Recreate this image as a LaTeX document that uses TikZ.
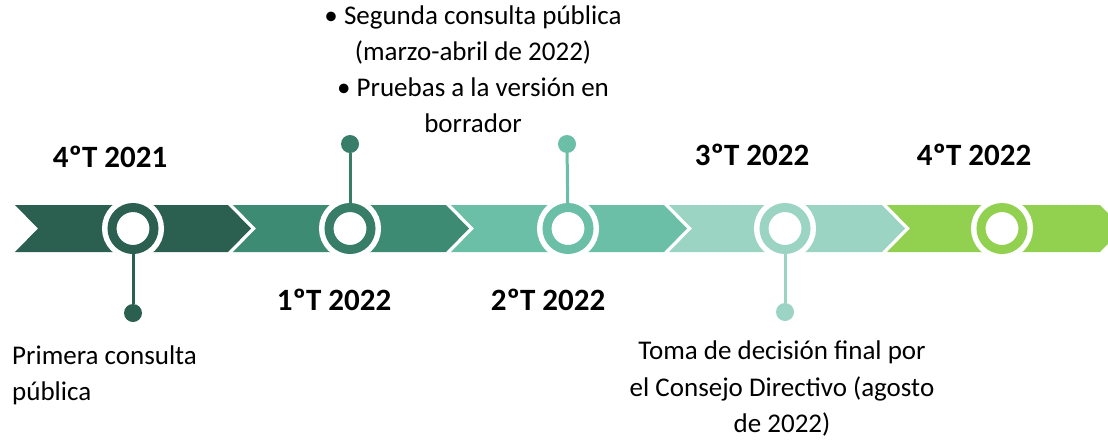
\documentclass[tikz,border=0pt]{standalone}
\usepackage{fontspec}
\setmainfont{Carlito}
\definecolor{cA}{HTML}{2B5F4F}
\definecolor{cB}{HTML}{3D8B73}
\definecolor{cBr}{HTML}{377D67}
\definecolor{cC}{HTML}{6ABFA6}
\definecolor{cD}{HTML}{9BD4C3}
\definecolor{cE}{HTML}{92D050}
\begin{document}
\begin{tikzpicture}[x=1pt,y=-1pt,
  ring/.style={circle, minimum size=42pt, inner sep=0pt, outer sep=4.5pt,
    fill=white, draw=white, double=#1, double distance=9pt, line width=5.5pt},
  dot/.style={circle, fill=#1, minimum size=18pt, inner sep=0pt, outer sep=0pt},
  stem/.style={draw=#1, line width=3pt},
  datelbl/.style={font=\fontsize{31}{37}\selectfont\bfseries, inner sep=0pt, anchor=base},
  desc/.style={font=\fontsize{27}{36}\selectfont, inner sep=0pt}]
\useasboundingbox (0,0) rectangle (1108,440);
\clip (0,0) rectangle (1108,440);
% chevron segments
\foreach \s/\c in {15/cA,233/cB,451/cC,669/cD,887/cE}{
  \fill[\c] (\s,205) -- (\s+213,205) -- (\s+236,228.5) -- (\s+213,252) -- (\s,252) -- (\s+23,228.5) -- cycle;
}
% rings
\node[ring=cA]  (c1) at (133,228.5) {};
\node[ring=cBr] (c2) at (350,228.5) {};
\node[ring=cC]  (c3) at (568,228.5) {};
\node[ring=cD]  (c4) at (785,228.5) {};
\node[ring=cE]  (c5) at (1002,228.5) {};
% dots
\node[dot=cA]  (p1) at (133,313) {};
\node[dot=cBr] (p2) at (350,144) {};
\node[dot=cC]  (p3) at (567,144) {};
\node[dot=cD]  (p4) at (785,312) {};
% stems
\draw[stem=cA]  (p1) -- (c1);
\draw[stem=cBr] (p2) -- (c2);
\draw[stem=cC]  (p3) -- (c3);
\draw[stem=cD]  (p4) -- (c4);
% date labels
\node[datelbl] (d1) at (110,167) {4ºT 2021};
\node[datelbl] (d2) at (334,310) {1ºT 2022};
\node[datelbl] (d3) at (548,310) {2ºT 2022};
\node[datelbl] (d4) at (752,165) {3ºT 2022};
\node[datelbl] (d5) at (974,165) {4ºT 2022};
% descriptions
\node[desc, align=center, anchor=north] (t2) at (473,6)
  {\textbullet\ Segunda consulta pública\\(marzo-abril de 2022)\\\textbullet\ Pruebas a la versión en\\borrador};
\node[desc, align=left, anchor=north west] (t1) at (12,346)
  {Primera consulta\\pública};
\node[desc, align=center, anchor=north, font=\fontsize{27}{36.5}\selectfont] (t4) at (782,341)
  {Toma de decisión final por\\el Consejo Directivo (agosto\\de 2022)};
\end{tikzpicture}
\end{document}
